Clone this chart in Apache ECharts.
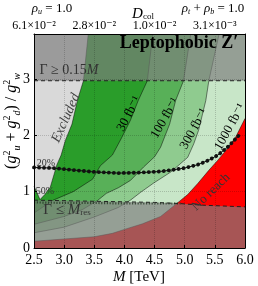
<!DOCTYPE html>
<html><head><meta charset="utf-8">
<script src="https://cdn.jsdelivr.net/npm/echarts@6/dist/echarts.min.js"></script>
<style>html,body{margin:0;padding:0;background:#fff}#c{width:258px;height:286px}</style>
</head><body><div id="c"></div>
<script>
// ---- data ----
const xTickLabels = ['2.5','3.0','3.5','4.0','4.5','5.0','5.5','6.0'];
const yTickLabels = ['0','1','2','3'];
const dcolTickValues = [2.5, 3.5, 4.5, 5.5];
const dcolTickLabels = ['6.1×10⁻²', '2.8×10⁻²', '1.0×10⁻²', '3.1×10⁻³'];

const contour1000 = [[2.5,0.12],[3.0,0.16],[3.5,0.2],[3.8,0.26],[4.0,0.33],[4.3,0.43],[4.6,0.56],[4.88,0.8],[5.05,0.95],[5.22,1.15],[5.4,1.38],[5.55,1.56],[5.72,1.78],[5.85,1.98],[6.0,2.3]];
const contour300 = [[2.5,0.27],[3.0,0.37],[3.5,0.55],[3.9,0.72],[4.1,0.85],[4.27,0.99],[4.48,1.15],[4.77,1.35],[5.05,1.61],[5.15,1.85],[5.23,2.09],[5.35,2.62],[5.4,2.97],[5.57,3.8]];
const contour100 = [[2.5,0.42],[3.0,0.56],[3.3,0.68],[3.55,0.84],[3.7,0.97],[3.9,1.07],[4.1,1.2],[4.32,1.44],[4.5,1.62],[4.6,1.79],[4.75,2.2],[4.85,2.62],[4.98,2.97],[5.1,3.8]];
const contour30 = [[2.5,0.62],[2.65,0.73],[2.82,0.85],[3.15,1.0],[3.47,1.22],[3.6,1.46],[3.8,1.65],[3.95,1.95],[4.1,2.27],[4.23,2.62],[4.38,2.97],[4.47,3.8]];
const excludedEdge = [[2.5,1.1],[2.6,0.86],[2.68,0.95],[2.77,1.08],[2.88,1.48],[2.95,1.65],[3.02,1.91],[3.13,2.2],[3.22,2.62],[3.32,2.97],[3.4,3.8]];
const widthTopLine = [[2.5,2.97],[6.0,2.97]];
const widthResLine = [[2.5,0.85],[3.5,0.83],[4.5,0.81],[4.9,0.79],[5.3,0.76],[6.0,0.73]];
const line50 = [[2.5,0.81],[3.0,0.8],[3.5,0.8],[4.0,0.79],[4.5,0.79],[4.95,0.79]];
const line20 = [[2.5,1.43],[2.8,1.42],[3.1,1.39],[3.5,1.35],[3.9,1.33],[4.3,1.34],[4.6,1.36],[4.82,1.39],[5.0,1.42],[5.22,1.48],[5.4,1.56],[5.55,1.65],[5.72,1.8],[5.9,2.0]];

// ---- chart ----
const SERIF = '"Liberation Serif","DejaVu Serif",serif';
const colors = {c30:'#2a9d2a', c100:'#58b058', c300:'#8fcb8f', c1000:'#c8e6c8', red:'#ff0000', excl:'#d9d9d9', overlay:'rgba(125,125,125,0.68)'};

function fill(data, color, origin){
  return {type:'line', data, symbol:'none', silent:true, animation:false, z:2,
    lineStyle:{color:'rgba(0,0,0,0.6)', width:0.8},
    areaStyle:{color, opacity:1, origin}};
}

const chart = echarts.init(document.getElementById('c'), null, {renderer:'canvas'});
chart.setOption({
  animation:false,
  grid:{left:34, right:13, top:34, bottom:38, show:true, backgroundColor:colors.red, borderWidth:0},
  xAxis:[{
    type:'value', min:2.5, max:6.0, interval:0.5, z:10,
    axisLine:{show:true, onZero:false, lineStyle:{color:'#000', width:1}},
    axisTick:{show:true, inside:true, length:3, lineStyle:{color:'#000'}},
    axisLabel:{color:'#000', fontFamily:SERIF, fontSize:14, margin:5,
      formatter:(v)=>{ const i = Math.round((v-2.5)/0.5); return xTickLabels[i] ?? ''; }},
    splitLine:{show:true, lineStyle:{color:'rgba(0,0,0,0.18)', type:'dotted', width:1}}
  },{
    type:'value', position:'top', min:2.5, max:6.0, z:10,
    axisLine:{show:true, onZero:false, lineStyle:{color:'#000', width:1}},
    axisTick:{show:false},
    axisLabel:{color:'#000', fontFamily:SERIF, fontSize:12, margin:2,
      customValues:dcolTickValues,
      formatter:(v)=>{ const i = dcolTickValues.indexOf(v); return i>=0 ? dcolTickLabels[i] : ''; }},
    splitLine:{show:false}
  }],
  yAxis:[{
    type:'value', min:0, max:3.8, interval:1, z:10,
    axisLine:{show:true, onZero:false, lineStyle:{color:'#000', width:1}},
    axisTick:{show:true, inside:true, length:3, lineStyle:{color:'#000'}},
    axisLabel:{color:'#000', fontFamily:SERIF, fontSize:14, margin:4, showMaxLabel:false,
      formatter:(v)=>{ const i = Math.round(v); return (Math.abs(v-i)<1e-6 && yTickLabels[i]!==undefined) ? yTickLabels[i] : ''; }},
    splitLine:{show:true, lineStyle:{color:'rgba(0,0,0,0.18)', type:'dotted', width:1}}
  },{
    type:'value', position:'right', min:0, max:3.8, z:10,
    axisLine:{show:true, onZero:false, lineStyle:{color:'#000', width:1}},
    axisTick:{show:false}, axisLabel:{show:false}, splitLine:{show:false}
  }],
  series:[
    fill(contour1000, colors.c1000, 'end'),
    fill(contour300, colors.c300, 'end'),
    fill(contour100, colors.c100, 'end'),
    fill(contour30, colors.c30, 'end'),
    fill(excludedEdge, colors.excl, 'end'),
    {type:'line', data:widthTopLine, symbol:'none', silent:true, z:3,
      lineStyle:{color:'#222', width:1, type:[4,3]},
      areaStyle:{color:colors.overlay, opacity:1, origin:'end'}},
    {type:'line', data:widthResLine, symbol:'none', silent:true, z:3,
      lineStyle:{color:'#222', width:1, type:[4,3]},
      areaStyle:{color:colors.overlay, opacity:1, origin:'start'}},
    {type:'line', data:line50, symbol:'none', silent:true, z:4,
      lineStyle:{color:'rgba(30,50,30,0.75)', width:2.2, type:[1.2,1.6]}},
    {type:'line', data:line20, symbol:'none', silent:true, z:4,
      lineStyle:{color:'#111', width:1}},
    {type:'line', data:line20, symbol:'none', silent:true, z:4,
      lineStyle:{color:'#111', width:3.8, type:[0.1,4.9], cap:'round'}}
  ],
  graphic:[
    {type:'text', x:52, y:9, style:{text:'{i|ρ}{sb|u}{n| = 1.0}', align:'center', verticalAlign:'middle',
      rich:{i:{fontFamily:SERIF, fontStyle:'italic', fontSize:13, fill:'#000'}, sb:{fontFamily:SERIF, fontStyle:'italic', fontSize:8, verticalAlign:'bottom', fill:'#000'}, n:{fontFamily:SERIF, fontSize:13, fill:'#000'}}}},
    {type:'text', x:143, y:14, style:{text:'{i|D}{sb|col}', align:'center', verticalAlign:'middle',
      rich:{i:{fontFamily:SERIF, fontStyle:'italic', fontSize:15, fill:'#000'}, sb:{fontFamily:SERIF, fontSize:9, verticalAlign:'bottom', fill:'#000'}}}},
    {type:'text', x:213, y:9, style:{text:'{i|ρ}{sb|t}{n| + }{i|ρ}{sb|b}{n| = 1.0}', align:'center', verticalAlign:'middle',
      rich:{i:{fontFamily:SERIF, fontStyle:'italic', fontSize:13, fill:'#000'}, sb:{fontFamily:SERIF, fontStyle:'italic', fontSize:8, verticalAlign:'bottom', fill:'#000'}, n:{fontFamily:SERIF, fontSize:13, fill:'#000'}}}},
    {type:'text', x:179, y:43, z:20, style:{text:'Leptophobic Z′', font:'bold 18px '+SERIF, fill:'#000', align:'center', verticalAlign:'middle'}},
    {type:'text', x:69, y:70, z:20, style:{text:'{n|Γ ≥ 0.15}{i|M}', align:'center', verticalAlign:'middle',
      rich:{n:{fontFamily:SERIF, fontSize:14, fill:'#333'}, i:{fontFamily:SERIF, fontStyle:'italic', fontSize:14, fill:'#333'}}}},
    {type:'text', x:66, y:118, z:20, rotation:66*Math.PI/180, style:{text:'Excluded', font:'italic 14px '+SERIF, fill:'#444', align:'center', verticalAlign:'middle'}},
    {type:'text', x:129, y:114, z:20, rotation:62*Math.PI/180, style:{text:'30 fb⁻¹', font:'13px '+SERIF, fill:'#000', align:'center', verticalAlign:'middle'}},
    {type:'text', x:165, y:118, z:20, rotation:60*Math.PI/180, style:{text:'100 fb⁻¹', font:'13px '+SERIF, fill:'#000', align:'center', verticalAlign:'middle'}},
    {type:'text', x:194, y:129, z:20, rotation:61*Math.PI/180, style:{text:'300 fb⁻¹', font:'13px '+SERIF, fill:'#000', align:'center', verticalAlign:'middle'}},
    {type:'text', x:230, y:127, z:20, rotation:61*Math.PI/180, style:{text:'1000 fb⁻¹', font:'13px '+SERIF, fill:'#000', align:'center', verticalAlign:'middle'}},
    {type:'text', x:211, y:192, z:20, rotation:44*Math.PI/180, style:{text:'No reach', font:'13px '+SERIF, fill:'#333', align:'center', verticalAlign:'middle'}},
    {type:'text', x:46, y:163, z:20, style:{text:'20%', font:'10px '+SERIF, fill:'#333', align:'center', verticalAlign:'middle'}},
    {type:'text', x:45, y:191, z:20, style:{text:'50%', font:'10px '+SERIF, fill:'#333', align:'center', verticalAlign:'middle'}},
    {type:'text', x:67, y:210, z:20, style:{text:'{n|Γ ≤ }{i|M}{sb|res}', align:'center', verticalAlign:'middle',
      rich:{n:{fontFamily:SERIF, fontSize:15, fill:'#333'}, i:{fontFamily:SERIF, fontStyle:'italic', fontSize:15, fill:'#333'}, sb:{fontFamily:SERIF, fontSize:9, verticalAlign:'bottom', fill:'#333'}}}},
    {type:'text', x:139, y:277, style:{text:'{i|M}{n| [TeV]}', align:'center', verticalAlign:'middle',
      rich:{i:{fontFamily:SERIF, fontStyle:'italic', fontSize:15, fill:'#000'}, n:{fontFamily:SERIF, fontSize:15, fill:'#000'}}}},
    {type:'text', x:12, y:121, rotation:Math.PI/2, style:{text:'{n|(}{i|g}{sp|2}{sb|u}{n| + }{i|g}{sp|2}{sb|d}{n|) / }{i|g}{sp|2}{sb|w}', align:'center', verticalAlign:'middle',
      rich:{n:{fontFamily:SERIF, fontSize:16, fill:'#000', lineHeight:20}, i:{fontFamily:SERIF, fontStyle:'italic', fontSize:16, fill:'#000', lineHeight:20},
        sp:{fontFamily:SERIF, fontSize:10, verticalAlign:'top', fill:'#000'}, sb:{fontFamily:SERIF, fontStyle:'italic', fontSize:10, verticalAlign:'bottom', fill:'#000'}}}}
  ]
});
</script></body></html>
